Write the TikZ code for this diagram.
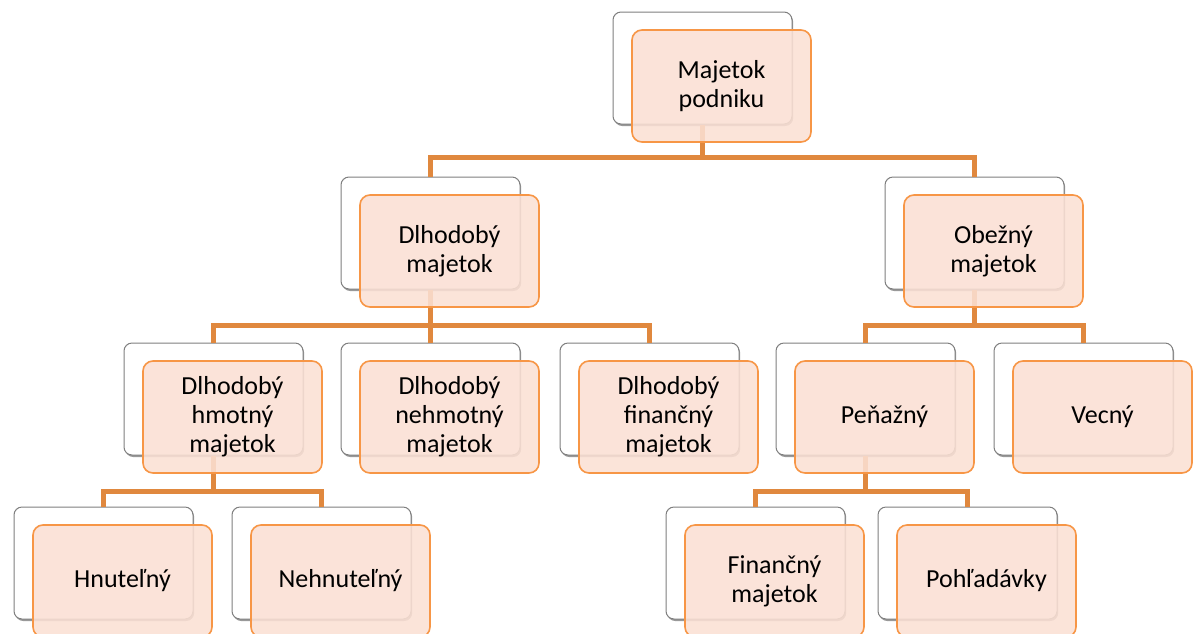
\documentclass[tikz,border=0pt]{standalone}
\usepackage{fontspec}
\setmainfont{Carlito}
\usetikzlibrary{shadows}
\definecolor{frontfill}{HTML}{FBE0D4}
\definecolor{frontdraw}{HTML}{F79646}
\definecolor{conncol}{HTML}{E0883E}
\definecolor{backdraw}{HTML}{7F7F7F}
\tikzset{
  backbox/.style={draw=backdraw, line width=1pt, fill=white, rounded corners=8pt,
    minimum width=179pt, minimum height=112pt, inner sep=0pt,
    drop shadow={shadow xshift=1.2pt, shadow yshift=-2pt, opacity=0.4, fill=black}},
  frontbox/.style={draw=frontdraw, line width=1.6pt, fill=frontfill, fill opacity=0.88, text opacity=1,
    rounded corners=10pt, minimum width=179pt, minimum height=112pt, inner sep=0pt,
    align=center, font=\fontsize{26pt}{29pt}\selectfont},
  conn/.style={draw=conncol, line width=5pt}
}
\newcommand\backat[3]{\node[backbox] (#1b) at ({#2+89.5},{#3+56}) {};}
\newcommand\frontat[4]{\node[frontbox] (#1) at ({#2+108.5},{#3+74}) {#4};}
\begin{document}
\begin{tikzpicture}[x=1pt,y=-1pt]
\useasboundingbox (0,0) rectangle (1195,633);
% back boxes
\backat{root}{613}{12}
\backat{dl}{341}{177}
\backat{ob}{885}{177}
\backat{hm}{124}{343}
\backat{nh}{341}{343}
\backat{fi}{560}{343}
\backat{pe}{776}{343}
\backat{ve}{994}{343}
\backat{hn}{14}{507}
\backat{ne}{232}{507}
\backat{fm}{666}{507}
\backat{po}{878}{507}
% connectors
\coordinate (j1) at (rootb.south |- 0,157);
\coordinate (j2) at (dlb.south |- 0,325);
\coordinate (j3) at (obb.south |- 0,325);
\coordinate (j4) at (hmb.south |- 0,491);
\coordinate (j5) at (peb.south |- 0,491);
\draw[conn] (rootb.south) -- (j1);
\draw[conn] (dlb.north) |- (j1) -| (obb.north);
\draw[conn] (dlb.south) -- (j2);
\draw[conn] (hmb.north) |- (j2) -| (fib.north);
\draw[conn] (j2) -- (nhb.north);
\draw[conn] (obb.south) -- (j3);
\draw[conn] (peb.north) |- (j3) -| (veb.north);
\draw[conn] (hmb.south) -- (j4);
\draw[conn] (hnb.north) |- (j4) -| (neb.north);
\draw[conn] (peb.south) -- (j5);
\draw[conn] (fmb.north) |- (j5) -| (pob.north);
% front boxes
\frontat{root}{613}{12}{Majetok\\podniku}
\frontat{dl}{341}{177}{Dlhodobý\\majetok}
\frontat{ob}{885}{177}{Obežný\\majetok}
\frontat{hm}{124}{343}{Dlhodobý\\hmotný\\majetok}
\frontat{nh}{341}{343}{Dlhodobý\\nehmotný\\majetok}
\frontat{fi}{560}{343}{Dlhodobý\\finančný\\majetok}
\frontat{pe}{776}{343}{Peňažný}
\frontat{ve}{994}{343}{Vecný}
\frontat{hn}{14}{507}{Hnuteľný}
\frontat{ne}{232}{507}{Nehnuteľný}
\frontat{fm}{666}{507}{Finančný\\majetok}
\frontat{po}{878}{507}{Pohľadávky}
\end{tikzpicture}
\end{document}
